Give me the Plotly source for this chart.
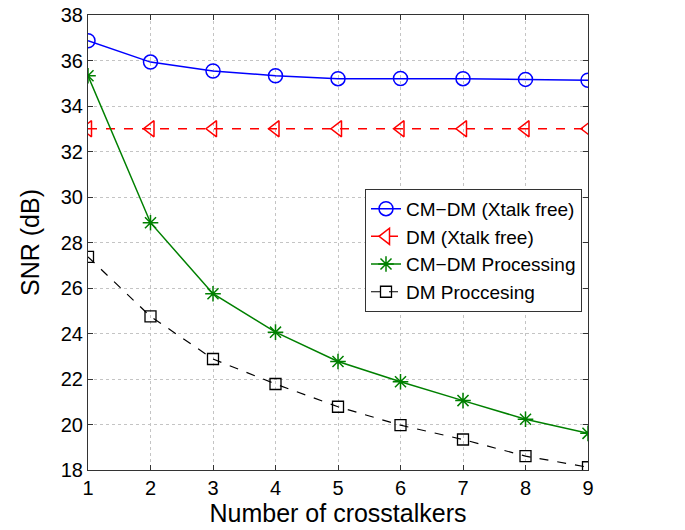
import plotly.graph_objects as go

x = [1, 2, 3, 4, 5, 6, 7, 8, 9]
cm_dm_free = [36.87, 35.93, 35.54, 35.33, 35.2, 35.21, 35.2, 35.17, 35.13]
dm_free = [33.0, 33.0, 33.0, 33.0, 33.0, 33.0, 33.0, 33.0, 33.0]
cm_dm_proc = [35.33, 28.87, 25.75, 24.06, 22.77, 21.88, 21.05, 20.23, 19.61]
dm_proc = [27.37, 24.75, 22.88, 21.78, 20.78, 19.97, 19.34, 18.61, 18.12]

names = ["CM\u2212DM (Xtalk free)", "DM (Xtalk free)", "CM\u2212DM Processing", "DM Proccesing"]
x_ticks = [1, 2, 3, 4, 5, 6, 7, 8, 9]
y_ticks = [18, 20, 22, 24, 26, 28, 30, 32, 34, 36, 38]

fig = go.Figure()
fig.add_trace(go.Scatter(x=x, y=cm_dm_free, name=names[0], mode="lines+markers",
                         line=dict(color="#0000ff", width=1.5),
                         marker=dict(symbol="circle-open", size=14, color="#0000ff", line=dict(width=1.5))))
fig.add_trace(go.Scatter(x=x, y=dm_free, name=names[1], mode="lines+markers",
                         line=dict(color="#ff0000", width=1.5, dash="dash"),
                         marker=dict(symbol="triangle-left-open", size=14, color="#ff0000", line=dict(width=1.5))))
fig.add_trace(go.Scatter(x=x, y=cm_dm_proc, name=names[2], mode="lines+markers",
                         line=dict(color="#008000", width=1.5),
                         marker=dict(symbol="asterisk-open", size=13, color="#008000", line=dict(width=1.5, color="#008000"))))
fig.add_trace(go.Scatter(x=x, y=dm_proc, name=names[3], mode="lines+markers",
                         line=dict(color="#000000", width=1.2, dash="dash"),
                         marker=dict(symbol="square-open", size=11, color="#000000", line=dict(width=1.3))))

axis_common = dict(showline=True, linecolor="#333333", linewidth=1, mirror="ticks",
                   ticks="inside", ticklen=5, tickcolor="#333333",
                   showgrid=True, gridcolor="#c4c4c4", griddash="dot", gridwidth=1,
                   zeroline=False, tickfont=dict(size=20, color="#000000"),
                   automargin=False, ticklabeloverflow="allow")

fig.update_xaxes(range=[1, 9], tickvals=x_ticks,
                 title=dict(text="Number of crosstalkers", font=dict(size=25, color="#000000"), standoff=0),
                 **axis_common)
fig.update_yaxes(range=[18, 38], tickvals=y_ticks,
                 title=dict(text="SNR (dB)", font=dict(size=25, color="#000000"), standoff=14),
                 **axis_common)

fig.update_layout(
    width=685, height=530,
    margin=dict(l=88, r=97, t=15, b=60),
    paper_bgcolor="white", plot_bgcolor="white",
    font=dict(family="Liberation Sans, Arial, sans-serif", color="#000000"),
    showlegend=True,
    legend=dict(x=0.988, y=0.618, xanchor="right", yanchor="top",
                bgcolor="white", bordercolor="#333333", borderwidth=1,
                font=dict(size=19), tracegroupgap=0, itemwidth=30),
)

fig.write_html("out.html", config={"displayModeBar": False},
               post_script="document.body.style.margin='0';")
